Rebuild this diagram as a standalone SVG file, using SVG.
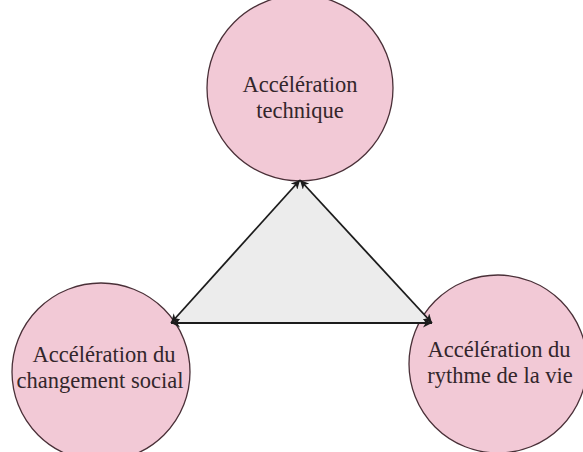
<svg xmlns="http://www.w3.org/2000/svg" width="583" height="452" viewBox="0 0 583 452">
  <defs>
    <style>
      .node circle { fill: #f2c9d6; stroke: #4a3038; stroke-width: 1.3; }
      .node text { font-family: "Liberation Serif", "Times New Roman", serif; font-size: 22.5px; fill: #33262b; text-anchor: middle; }
      .edge { stroke: #1c1c1c; stroke-width: 1.8; fill: none; marker-start: url(#arrow); marker-end: url(#arrow); }
    </style>
    <marker id="arrow" viewBox="0 0 10 10" refX="10" refY="5" markerWidth="9" markerHeight="9" markerUnits="userSpaceOnUse" orient="auto-start-reverse">
      <path d="M0,0 L10,5 L0,10 L3,5 Z" fill="#1c1c1c"/>
    </marker>
  </defs>
  <rect width="583" height="452" fill="#ffffff"/>
  <g id="node-technique" class="node">
    <circle cx="300" cy="88" r="93"/>
    <text x="300" y="92">Accélération</text>
    <text x="300" y="118">technique</text>
  </g>
  <g id="node-social" class="node">
    <circle cx="101" cy="372" r="89"/>
    <text x="104" y="362">Accélération du</text>
    <text x="100" y="388">changement social</text>
  </g>
  <g id="node-rythme" class="node">
    <circle cx="498" cy="364" r="89"/>
    <text x="499" y="357">Accélération du</text>
    <text x="500" y="383">rythme de la vie</text>
  </g>
  <g id="connectors">
    <polygon points="300,180 171,323 432,323" fill="#ececec" stroke="none"/>
    <line class="edge" x1="300" y1="180" x2="171" y2="323"/>
    <line class="edge" x1="300" y1="180" x2="432" y2="323"/>
    <line class="edge" x1="171" y1="323" x2="432" y2="323"/>
  </g>
</svg>
